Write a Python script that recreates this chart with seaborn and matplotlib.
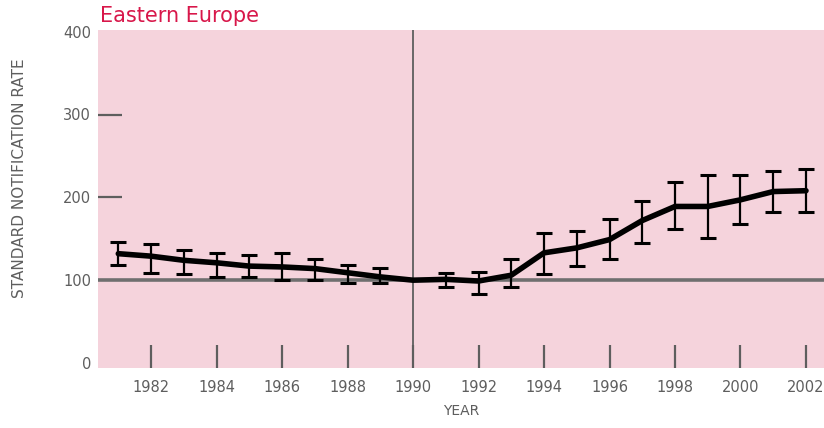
import matplotlib
matplotlib.use("Agg")
import numpy as np
import pandas as pd
import matplotlib.pyplot as plt
import seaborn as sns

# ----------------- Dados -----------------
anos = [1981, 1982, 1983, 1984, 1985, 1986, 1987, 1988, 1989, 1990, 1991,
        1992, 1993, 1994, 1995, 1996, 1997, 1998, 1999, 2000, 2001, 2002]
taxa = [132, 129, 124, 121, 117, 116, 114, 109, 104, 100, 101,
        99, 106, 133, 139, 149, 172, 189, 189, 197, 207, 208]
limite_inf = [118, 109, 108, 104, 104, 100, 100, 97, 97, 100, 92,
              83, 92, 108, 117, 126, 145, 162, 151, 168, 182, 182]
limite_sup = [146, 144, 137, 133, 130, 133, 125, 118, 115, 100, 109,
              110, 125, 157, 159, 174, 195, 218, 227, 227, 232, 234]

ticks_x = [1982, 1984, 1986, 1988, 1990, 1992, 1994, 1996, 1998, 2000, 2002]
ticks_y = [0, 100, 200, 300, 400]

df = pd.DataFrame({"ano": anos, "taxa": taxa, "inf": limite_inf, "sup": limite_sup})

# ----------------- Estilo -----------------
ROSA = "#f5d3dc"
CINZA = "#5e5e5e"
sns.set_style("white", {"axes.facecolor": ROSA})
plt.rcParams["font.family"] = ["DejaVu Sans"]
plt.rcParams["hatch.color"] = "#fbe6ec"
plt.rcParams["hatch.linewidth"] = 0.6

fig = plt.figure(figsize=(8.24, 4.28), dpi=100)
ax = fig.add_axes([98 / 824, 1 - 368 / 428, 1 - 98 / 824, (368 - 30) / 428])

# textura quadriculada do fundo
ax.add_patch(plt.Rectangle((0, 0), 1, 1, transform=ax.transAxes, facecolor="none",
                           edgecolor="none", hatch="xxxx", zorder=0))

# linhas de referência
ax.axhline(100, color="#6f6f6f", lw=2.6, zorder=1)
ax.axvline(1990, color=CINZA, lw=1.3, zorder=1)

# barras de erro
yerr = np.array([df["taxa"] - df["inf"], df["sup"] - df["taxa"]])
mask = df["ano"] != 1990
ax.errorbar(df["ano"][mask], df["taxa"][mask], yerr=yerr[:, mask.values],
            fmt="none", ecolor="black", elinewidth=1.6, capsize=5.5,
            capthick=2.2, zorder=3)

# linha principal
sns.lineplot(data=df, x="ano", y="taxa", color="black", lw=4, ax=ax, zorder=4)

ax.set_xlim(1980.38, 2002.55)
ax.set_ylim(-6, 402)
for s in ax.spines.values():
    s.set_visible(False)

ax.set_xticks(ticks_x)
ax.set_xticklabels([str(t) for t in ticks_x], fontsize=10.5, color=CINZA)
ax.tick_params(axis="x", bottom=True, direction="in", length=16.5, width=1.6,
               color=CINZA, pad=4)
for lbl in ax.get_xticklabels():
    lbl.set_y(-0.02)

ax.set_yticks(ticks_y)
ax.set_yticklabels([str(t) for t in ticks_y], fontsize=10.5, color=CINZA)
ax.tick_params(axis="y", left=True, direction="in", length=17, width=1.6,
               color=CINZA, pad=5)
# só 200 e 300 têm marca visível
for val, tk in zip(ticks_y, ax.yaxis.get_major_ticks()):
    if val not in (200, 300):
        tk.tick1line.set_visible(False)

ax.set_xlabel("YEAR", fontsize=10, color=CINZA, labelpad=6)
ax.set_ylabel("")
fig.text(20 / 824, 1 - 178 / 428, "STANDARD NOTIFICATION RATE", rotation=90,
         ha="center", va="center", fontsize=11, color=CINZA)

fig.text(100 / 824, 1 - 22 / 428, "Eastern Europe", color="#d8174a",
         fontsize=15, ha="left", va="baseline")

fig.savefig("out.png", dpi=100)
